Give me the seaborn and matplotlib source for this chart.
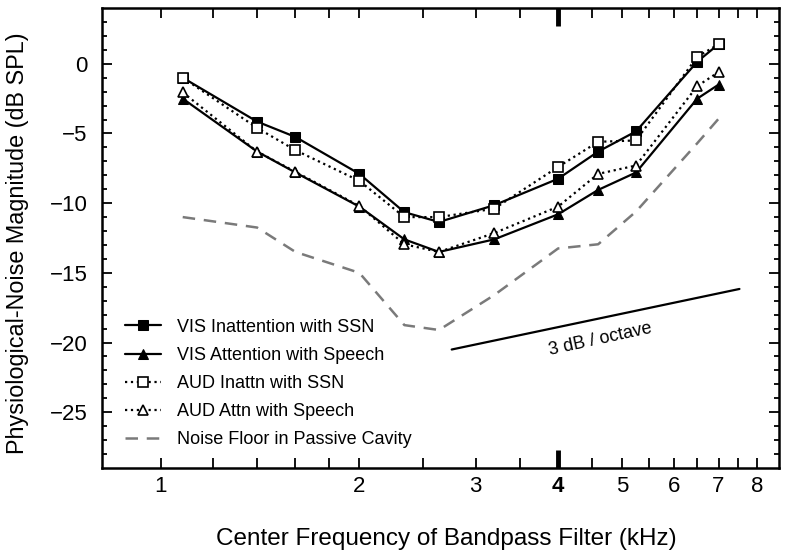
import numpy as np
import pandas as pd
import matplotlib
matplotlib.use("Agg")
import matplotlib.pyplot as plt
import seaborn as sns
from matplotlib.ticker import FixedLocator, NullFormatter, FixedFormatter

# ---- data ----
freq_khz = [1.08, 1.4, 1.6, 2.0, 2.34, 2.64, 3.2, 4.0, 4.6, 5.25, 6.5, 7.0]
vis_inatt_ssn = [-1.0, -4.15, -5.25, -7.9, -10.65, -11.35, -10.15, -8.25, -6.3, -4.85, 0.15, 1.4]
vis_att_speech = [-2.5, -6.3, -7.8, -10.25, -12.6, -13.5, -12.6, -10.8, -9.05, -7.8, -2.5, -1.5]
aud_inatt_ssn = [-1.0, -4.6, -6.2, -8.4, -11.0, -11.0, -10.4, -7.4, -5.6, -5.5, 0.5, 1.4]
aud_att_speech = [-2.05, -6.3, -7.75, -10.2, -12.95, -13.5, -12.15, -10.25, -7.9, -7.3, -1.6, -0.6]
noise_floor = [-11.0, -11.75, -13.5, -15.0, -18.75, -19.1, -16.6, -13.25, -12.95, -10.6, -5.7, -3.95]

series_labels = ["VIS Inattention with SSN", "VIS Attention with Speech",
                 "AUD Inattn with SSN", "AUD Attn with Speech",
                 "Noise Floor in Passive Cavity"]

# reference slope line: 3 dB / octave
slope_freqs = [2.76, 7.53]
slope_start_db = -20.5
slope_db_per_octave = 3.0
slope_text = "3 dB / octave"

xtick_major = [1, 2, 3, 4, 5, 6, 7, 8]
xtick_minor = [1.2, 1.4, 1.6, 1.8, 2.5, 3.5, 4.5, 5.5, 6.5, 7.5]
ytick_major = [-25, -20, -15, -10, -5, 0]
ytick_labels = ["\u221225", "\u221220", "\u221215", "\u221210", "\u22125", "0"]

sns.set_style("ticks")
plt.rcParams["font.family"] = ["Liberation Sans", "DejaVu Sans"]
plt.rcParams.update({"text.color": "black", "axes.labelcolor": "black",
                     "xtick.color": "black", "ytick.color": "black",
                     "axes.edgecolor": "black"})

fig = plt.figure(figsize=(8.0, 5.6), dpi=100)
ax = fig.add_axes([0.1275, 0.1643, 0.974 - 0.1275, 0.9857 - 0.1643])

lw = 1.6
common = dict(ax=ax, x=freq_khz, color="black", linewidth=lw, markersize=7)
sns.lineplot(y=vis_inatt_ssn, marker="s", linestyle="-", markerfacecolor="black",
             markeredgecolor="black", label=series_labels[0], **common)
sns.lineplot(y=vis_att_speech, marker="^", linestyle="-", markerfacecolor="black",
             markeredgecolor="black", label=series_labels[1], **common)
sns.lineplot(y=aud_inatt_ssn, marker="s", linestyle=":", markerfacecolor="white",
             markeredgecolor="black", markeredgewidth=1.2, label=series_labels[2], **common)
sns.lineplot(y=aud_att_speech, marker="^", linestyle=":", markerfacecolor="white",
             markeredgecolor="black", markeredgewidth=1.2, label=series_labels[3], **common)
sns.lineplot(ax=ax, x=freq_khz, y=noise_floor, color="#7a7a7a", linewidth=1.8,
             linestyle=(0, (5, 3.5)), label=series_labels[4])

# slope line
slope_db = [slope_start_db + slope_db_per_octave * np.log2(f / slope_freqs[0]) for f in slope_freqs]
ax.plot(slope_freqs, slope_db, color="black", linewidth=1.6)
ax.text(4.63, -19.75, slope_text, rotation=12.3, ha="center", va="center",
        fontsize=13, color="black")

ax.set_xscale("log")
ax.set_xlim(0.815, 8.65)
ax.set_ylim(-29, 4)

ax.xaxis.set_major_locator(FixedLocator(xtick_major))
ax.xaxis.set_major_formatter(FixedFormatter([str(v) for v in xtick_major]))
ax.xaxis.set_minor_locator(FixedLocator(xtick_minor))
ax.xaxis.set_minor_formatter(NullFormatter())
ax.yaxis.set_major_locator(FixedLocator(ytick_major))
ax.yaxis.set_major_formatter(FixedFormatter(ytick_labels))
ax.yaxis.set_minor_locator(FixedLocator(list(range(-28, 4))))

ax.tick_params(axis="both", which="both", direction="in", top=True, right=True,
               width=1.3, color="black", labelcolor="black")
ax.tick_params(axis="x", which="major", length=7, labelsize=16, pad=6)
ax.tick_params(axis="x", which="minor", length=7)
ax.tick_params(axis="y", which="major", length=7, labelsize=16, pad=10.5)
ax.tick_params(axis="y", which="minor", length=3.6)

for s in ax.spines.values():
    s.set_linewidth(1.8)
    s.set_color("black")

# emphasise 4 kHz
idx4 = xtick_major.index(4)
ax.get_xticklabels()[idx4].set_fontweight("bold")
t4 = ax.xaxis.get_major_ticks()[idx4]
t4.tick1line.set_markersize(13)
t4.tick1line.set_markeredgewidth(3.5)
t4.tick2line.set_markersize(13)
t4.tick2line.set_markeredgewidth(3.5)

ax.set_xlabel("Center Frequency of Bandpass Filter (kHz)", fontsize=17.5, color="black")
ax.set_ylabel("Physiological-Noise Magnitude (dB SPL)", fontsize=16.8, color="black")
ax.xaxis.set_label_coords(0.508, -0.130)
ax.yaxis.set_label_coords(-0.1075, 0.488)

leg = ax.legend(loc="upper left", bbox_to_anchor=(0.01, 0.36), frameon=False,
                fontsize=13, handlelength=2.0, handletextpad=0.9, labelspacing=0.62)
for t in leg.get_texts():
    t.set_color("black")

fig.savefig("out.png", dpi=100)
